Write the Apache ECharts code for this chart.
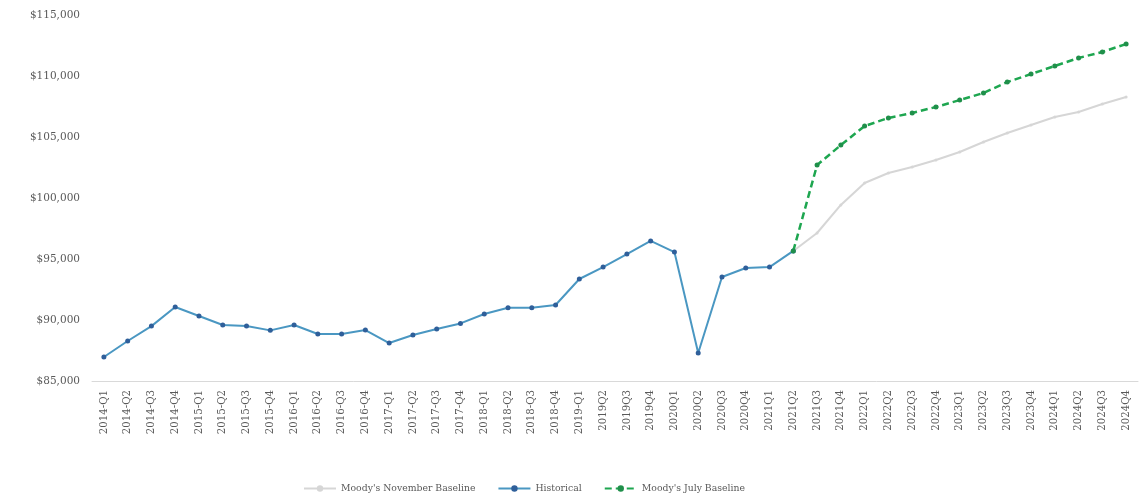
<!DOCTYPE html>
<html>
<head>
<meta charset="utf-8">
<script src="https://cdn.jsdelivr.net/npm/echarts@6/dist/echarts.min.js"></script>
<style>
  html, body { margin: 0; padding: 0; background: #ffffff; }
  #chart { width: 1145px; height: 499px; }
</style>
</head>
<body>
<div id="chart"></div>
<script>
// Quarter labels along the x axis
const quarters = [
  '2014-Q1','2014-Q2','2014-Q3','2014-Q4',
  '2015-Q1','2015-Q2','2015-Q3','2015-Q4',
  '2016-Q1','2016-Q2','2016-Q3','2016-Q4',
  '2017-Q1','2017-Q2','2017-Q3','2017-Q4',
  '2018-Q1','2018-Q2','2018-Q3','2018-Q4',
  '2019-Q1','2019Q2','2019Q3','2019Q4',
  '2020Q1','2020Q2','2020Q3','2020Q4',
  '2021Q1','2021Q2','2021Q3','2021Q4',
  '2022Q1','2022Q2','2022Q3','2022Q4',
  '2023Q1','2023Q2','2023Q3','2023Q4',
  '2024Q1','2024Q2','2024Q3','2024Q4'
];

// Historical values, 2014-Q1 through 2021Q2
const historical = [
  86970, 88280, 89500, 91070,
  90330, 89590, 89510, 89150,
  89590, 88850, 88850, 89180,
  88110, 88770, 89260, 89720,
  90490, 91000, 91000, 91230,
  93360, 94340, 95400, 96480,
  95570, 87300, 93520, 94260,
  94340, 95660
];

// Forecasts, 2021Q2 through 2024Q4
const novemberBaseline = [
  95660, 97130, 99430,
  101230, 102050, 102540, 103110,
  103770, 104590, 105330, 105980,
  106640, 107050, 107700, 108280
];
const julyBaseline = [
  95660, 102700, 104340,
  105900, 106560, 106970, 107460,
  108030, 108610, 109500, 110160,
  110820, 111480, 111970, 112620
];

// Value-axis ticks
const yMin = 85000, yMax = 115000, yStep = 5000;

// Forecasts start at the last historical quarter
const forecastStart = historical.length - 1;
const pad = (arr) => Array(forecastStart).fill(null).concat(arr);
const histFull = historical.concat(Array(quarters.length - historical.length).fill(null));

const serif = '"DejaVu Serif", "Liberation Serif", serif';

const chart = echarts.init(document.getElementById('chart'), null, { renderer: 'canvas' });
chart.setOption({
  animation: false,
  backgroundColor: '#ffffff',
  textStyle: { fontFamily: serif },
  grid: { left: 92, right: 7, top: 15, bottom: 118, containLabel: false },
  legend: {
    top: 479,
    left: 298,
    itemGap: 22,
    itemWidth: 32,
    itemHeight: 8,
    textStyle: { fontFamily: serif, fontSize: 9.3, color: '#595959' },
    data: ["Moody's November Baseline", 'Historical', "Moody's July Baseline"]
  },
  xAxis: {
    type: 'category',
    data: quarters,
    boundaryGap: true,
    axisLine: { lineStyle: { color: '#d9d9d9', width: 1 } },
    axisTick: { show: false },
    axisLabel: {
      rotate: 90,
      interval: 0,
      fontFamily: serif,
      fontSize: 10.2,
      color: '#595959',
      margin: 9
    }
  },
  yAxis: {
    type: 'value',
    min: yMin,
    max: yMax,
    interval: yStep,
    splitLine: { show: false },
    axisLine: { show: false },
    axisTick: { show: false },
    axisLabel: {
      fontFamily: serif,
      fontSize: 10.5,
      color: '#595959',
      margin: 12,
      formatter: (v) => '$' + v.toLocaleString('en-US')
    }
  },
  series: [
    {
      name: "Moody's November Baseline",
      type: 'line',
      data: pad(novemberBaseline),
      symbol: 'circle',
      symbolSize: 3,
      itemStyle: { color: '#d6d6d6' },
      lineStyle: { color: '#d6d6d6', width: 2 },
      z: 1
    },
    {
      name: 'Historical',
      type: 'line',
      data: histFull,
      symbol: 'circle',
      symbolSize: 5,
      itemStyle: { color: '#2f5f9a' },
      lineStyle: { color: '#4a97c2', width: 2 },
      z: 2
    },
    {
      name: "Moody's July Baseline",
      type: 'line',
      data: pad(julyBaseline),
      symbol: 'circle',
      symbolSize: 5,
      itemStyle: { color: '#1f8f4a' },
      lineStyle: { color: '#1ea650', width: 2.5, type: [7, 4] },
      z: 3
    }
  ]
});
</script>
</body>
</html>
